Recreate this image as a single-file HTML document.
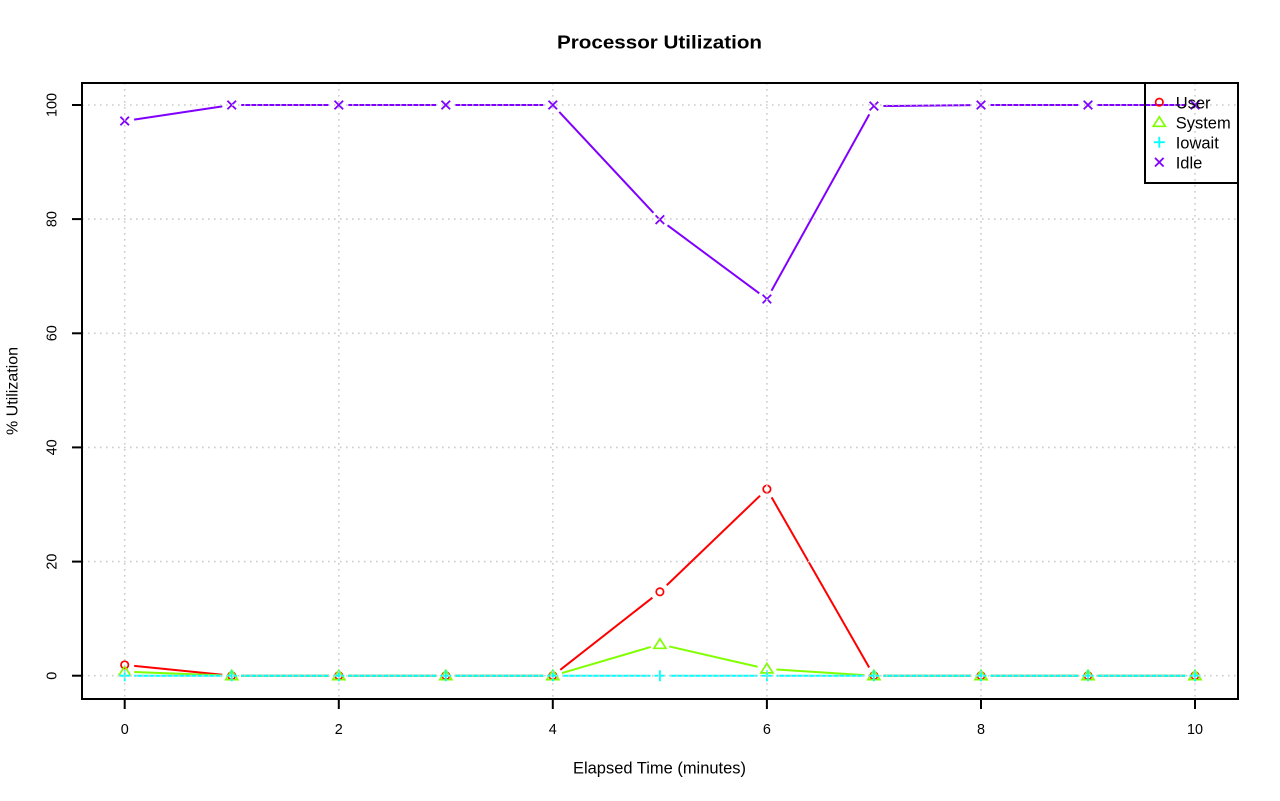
<!DOCTYPE html>
<html>
<head>
<meta charset="utf-8">
<style>
html,body{margin:0;padding:0;background:#fff;}
svg{display:block;}
text{font-family:"Liberation Sans",Arial,sans-serif;fill:#000;}
</style>
</head>
<body>
<svg width="1280" height="801" viewBox="0 0 1280 801" xmlns="http://www.w3.org/2000/svg">
<rect x="0" y="0" width="1280" height="801" fill="#fff"/>

<!-- Title -->
<text x="659.5" y="48.3" font-size="18.5" font-weight="bold" text-anchor="middle" textLength="205" lengthAdjust="spacingAndGlyphs">Processor Utilization</text>

<!-- Series: User (red) -->
<g stroke="#FF0000" stroke-width="2" fill="none" stroke-linecap="butt">
<line x1="134.15" y1="665.85" x2="222.25" y2="674.75"/>
<line x1="241.2" y1="675.7" x2="329.3" y2="675.7"/>
<line x1="348.3" y1="675.7" x2="436.3" y2="675.7"/>
<line x1="455.3" y1="675.7" x2="543.3" y2="675.7"/>
<line x1="560.28" y1="669.84" x2="652.42" y2="597.66"/>
<line x1="666.75" y1="585.22" x2="760.05" y2="495.68"/>
<line x1="771.63" y1="497.34" x2="869.17" y2="667.46"/>
<line x1="883.4" y1="675.7" x2="971.5" y2="675.7"/>
<line x1="990.5" y1="675.7" x2="1078.5" y2="675.7"/>
<line x1="1097.5" y1="675.7" x2="1185.5" y2="675.7"/>
</g>
<g stroke="#FF0000" stroke-width="1.7" fill="none">
<circle cx="124.7" cy="664.9" r="3.7"/>
<circle cx="231.7" cy="675.7" r="3.7"/>
<circle cx="338.8" cy="675.7" r="3.7"/>
<circle cx="445.8" cy="675.7" r="3.7"/>
<circle cx="552.8" cy="675.7" r="3.7"/>
<circle cx="659.9" cy="591.8" r="3.7"/>
<circle cx="766.9" cy="489.1" r="3.7"/>
<circle cx="873.9" cy="675.7" r="3.7"/>
<circle cx="981.0" cy="675.7" r="3.7"/>
<circle cx="1088.0" cy="675.7" r="3.7"/>
<circle cx="1195.0" cy="675.7" r="3.7"/>
</g>

<!-- Series: System (green) -->
<g stroke="#80FF00" stroke-width="2" fill="none">
<line x1="134.19" y1="672.06" x2="222.21" y2="675.34"/>
<line x1="241.2" y1="675.7" x2="329.3" y2="675.7"/>
<line x1="348.3" y1="675.7" x2="436.3" y2="675.7"/>
<line x1="455.3" y1="675.7" x2="543.3" y2="675.7"/>
<line x1="561.92" y1="673.03" x2="650.78" y2="646.97"/>
<line x1="669.16" y1="646.43" x2="757.64" y2="666.77"/>
<line x1="776.38" y1="669.5" x2="864.42" y2="675.1"/>
<line x1="883.4" y1="675.7" x2="971.5" y2="675.7"/>
<line x1="990.5" y1="675.7" x2="1078.5" y2="675.7"/>
<line x1="1097.5" y1="675.7" x2="1185.5" y2="675.7"/>
</g>
<g stroke="#80FF00" stroke-width="1.7" fill="none" stroke-linejoin="miter">
<polygon points="124.7,666.2 118.7,675.7 130.7,675.7"/>
<polygon points="231.7,670.2 225.7,679.7 237.7,679.7"/>
<polygon points="338.8,670.2 332.8,679.7 344.8,679.7"/>
<polygon points="445.8,670.2 439.8,679.7 451.8,679.7"/>
<polygon points="552.8,670.2 546.8,679.7 558.8,679.7"/>
<polygon points="659.9,638.8 653.9,648.3 665.9,648.3"/>
<polygon points="766.9,663.4 760.9,672.9 772.9,672.9"/>
<polygon points="873.9,670.2 867.9,679.7 879.9,679.7"/>
<polygon points="981.0,670.2 975.0,679.7 987.0,679.7"/>
<polygon points="1088.0,670.2 1082.0,679.7 1094.0,679.7"/>
<polygon points="1195.0,670.2 1189.0,679.7 1201.0,679.7"/>
</g>

<!-- Series: Iowait (cyan) -->
<g stroke="#00FFFF" stroke-width="2" fill="none">
<line x1="134.2" y1="675.7" x2="222.2" y2="675.7"/>
<line x1="241.2" y1="675.7" x2="329.3" y2="675.7"/>
<line x1="348.3" y1="675.7" x2="436.3" y2="675.7"/>
<line x1="455.3" y1="675.7" x2="543.3" y2="675.7"/>
<line x1="562.3" y1="675.7" x2="650.4" y2="675.7"/>
<line x1="669.4" y1="675.7" x2="757.4" y2="675.7"/>
<line x1="776.4" y1="675.7" x2="864.4" y2="675.7"/>
<line x1="883.4" y1="675.7" x2="971.5" y2="675.7"/>
<line x1="990.5" y1="675.7" x2="1078.5" y2="675.7"/>
<line x1="1097.5" y1="675.7" x2="1185.5" y2="675.7"/>
</g>
<g stroke="#00FFFF" stroke-width="1.8" fill="none">
<path d="M119.2 675.7h11M124.7 670.2v11
M226.2 675.7h11M231.7 670.2v11
M333.3 675.7h11M338.8 670.2v11
M440.3 675.7h11M445.8 670.2v11
M547.3 675.7h11M552.8 670.2v11
M654.4 675.7h11M659.9 670.2v11
M761.4 675.7h11M766.9 670.2v11
M868.4 675.7h11M873.9 670.2v11
M975.5 675.7h11M981.0 670.2v11
M1082.5 675.7h11M1088.0 670.2v11
M1189.5 675.7h11M1195.0 670.2v11"/>
</g>

<!-- Series: Idle (purple) -->
<g stroke="#8000FF" stroke-width="2" fill="none">
<line x1="134.1" y1="119.6" x2="222.3" y2="106.4"/>
<line x1="241.2" y1="105" x2="329.3" y2="105"/>
<line x1="348.3" y1="105" x2="436.3" y2="105"/>
<line x1="455.3" y1="105" x2="543.3" y2="105"/>
<line x1="559.28" y1="111.94" x2="653.42" y2="212.76"/>
<line x1="667.53" y1="225.36" x2="759.27" y2="293.34"/>
<line x1="771.51" y1="290.69" x2="869.29" y2="114.41"/>
<line x1="883.4" y1="106.0" x2="971.5" y2="105.1"/>
<line x1="990.5" y1="105" x2="1078.5" y2="105"/>
<line x1="1097.5" y1="105" x2="1185.5" y2="105"/>
</g>
<g stroke="#8000FF" stroke-width="1.8" fill="none">
<path d="M120.4 116.7l8.6 8.6M129 116.7l-8.6 8.6
M227.4 100.7l8.6 8.6M236 100.7l-8.6 8.6
M334.5 100.7l8.6 8.6M343.1 100.7l-8.6 8.6
M441.5 100.7l8.6 8.6M450.1 100.7l-8.6 8.6
M548.5 100.7l8.6 8.6M557.1 100.7l-8.6 8.6
M655.6 215.4l8.6 8.6M664.2 215.4l-8.6 8.6
M762.6 294.7l8.6 8.6M771.2 294.7l-8.6 8.6
M869.6 101.8l8.6 8.6M878.2 101.8l-8.6 8.6
M976.7 100.7l8.6 8.6M985.3 100.7l-8.6 8.6
M1083.7 100.7l8.6 8.6M1092.3 100.7l-8.6 8.6
M1190.7 100.7l8.6 8.6M1199.3 100.7l-8.6 8.6"/>
</g>

<!-- Grid (drawn on top) -->
<g stroke="#CCCCCC" stroke-width="1.6" stroke-dasharray="1.6,4.4" fill="none">
<line x1="124.7" y1="83" x2="124.7" y2="699"/>
<line x1="338.8" y1="83" x2="338.8" y2="699"/>
<line x1="552.8" y1="83" x2="552.8" y2="699"/>
<line x1="766.9" y1="83" x2="766.9" y2="699"/>
<line x1="981.0" y1="83" x2="981.0" y2="699"/>
<line x1="1195.0" y1="83" x2="1195.0" y2="699"/>
<line x1="82" y1="675.7" x2="1238" y2="675.7"/>
<line x1="82" y1="561.6" x2="1238" y2="561.6"/>
<line x1="82" y1="447.4" x2="1238" y2="447.4"/>
<line x1="82" y1="333.3" x2="1238" y2="333.3"/>
<line x1="82" y1="219.1" x2="1238" y2="219.1"/>
<line x1="82" y1="105" x2="1238" y2="105"/>
</g>

<!-- Plot box -->
<rect x="82" y="83" width="1156" height="616" fill="none" stroke="#000" stroke-width="2"/>

<!-- X ticks -->
<g stroke="#000" stroke-width="2">
<line x1="124.7" y1="699" x2="124.7" y2="709"/>
<line x1="338.8" y1="699" x2="338.8" y2="709"/>
<line x1="552.8" y1="699" x2="552.8" y2="709"/>
<line x1="766.9" y1="699" x2="766.9" y2="709"/>
<line x1="981.0" y1="699" x2="981.0" y2="709"/>
<line x1="1195.0" y1="699" x2="1195.0" y2="709"/>
</g>
<g font-size="14.4" text-anchor="middle">
<text x="124.7" y="734.2">0</text>
<text x="338.8" y="734.2">2</text>
<text x="552.8" y="734.2">4</text>
<text x="766.9" y="734.2">6</text>
<text x="981.0" y="734.2">8</text>
<text x="1195.0" y="734.2">10</text>
</g>

<!-- Y ticks -->
<g stroke="#000" stroke-width="2">
<line x1="72" y1="675.7" x2="82" y2="675.7"/>
<line x1="72" y1="561.6" x2="82" y2="561.6"/>
<line x1="72" y1="447.4" x2="82" y2="447.4"/>
<line x1="72" y1="333.3" x2="82" y2="333.3"/>
<line x1="72" y1="219.1" x2="82" y2="219.1"/>
<line x1="72" y1="105" x2="82" y2="105"/>
</g>
<g font-size="14.4" text-anchor="middle">
<text transform="translate(56.5,675.7) rotate(-90)">0</text>
<text transform="translate(56.5,561.6) rotate(-90)">20</text>
<text transform="translate(56.5,447.4) rotate(-90)">40</text>
<text transform="translate(56.5,333.3) rotate(-90)">60</text>
<text transform="translate(56.5,219.1) rotate(-90)">80</text>
<text transform="translate(56.5,105) rotate(-90)">100</text>
</g>

<!-- Axis labels -->
<text x="659.5" y="773.3" font-size="16.4" text-anchor="middle" textLength="173" lengthAdjust="spacingAndGlyphs">Elapsed Time (minutes)</text>
<text transform="translate(17.3,391) rotate(-90)" font-size="16" text-anchor="middle">% Utilization</text>

<!-- Legend -->
<rect x="1145" y="83" width="93" height="100" fill="none" stroke="#000" stroke-width="2"/>
<circle cx="1159.3" cy="102.2" r="3.7" stroke="#FF0000" stroke-width="1.7" fill="none"/>
<polygon points="1159.3,116.8 1153.3,126.3 1165.3,126.3" stroke="#80FF00" stroke-width="1.7" fill="none"/>
<path d="M1153.8 142.2h11M1159.3 136.7v11" stroke="#00FFFF" stroke-width="1.8" fill="none"/>
<path d="M1155 157.9l8.6 8.6M1163.6 157.9l-8.6 8.6" stroke="#8000FF" stroke-width="1.8" fill="none"/>
<g font-size="16.5">
<text x="1175.7" y="108.7">User</text>
<text x="1175.7" y="128.7">System</text>
<text x="1175.7" y="148.7">Iowait</text>
<text x="1175.7" y="168.7">Idle</text>
</g>
</svg>
</body>
</html>
